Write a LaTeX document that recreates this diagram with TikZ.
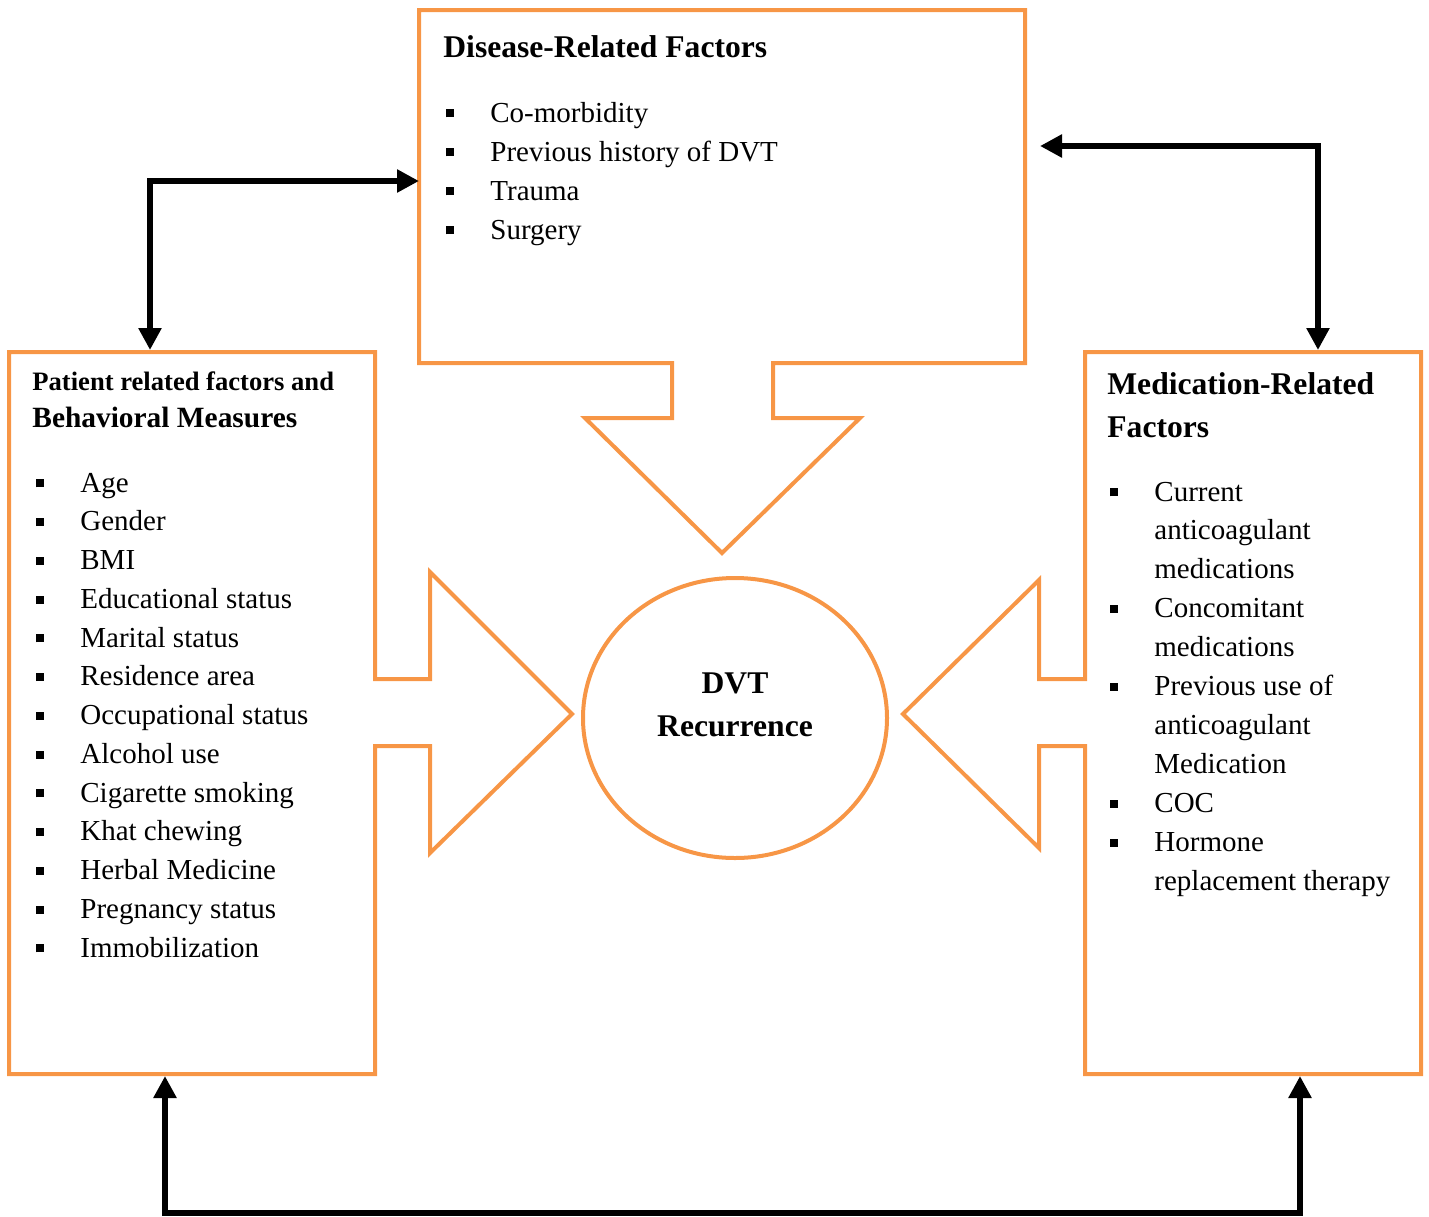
\documentclass[tikz,border=0pt]{standalone}
\usepackage{fontspec}
\setmainfont{Liberation Serif}
\usetikzlibrary{arrows.meta,shapes.geometric}
\definecolor{boxorange}{HTML}{F79646}
\tikzset{
  frame/.style={draw=boxorange, line width=2pt, line join=miter},
  ring/.style={draw=boxorange, line width=2pt, ellipse, minimum width=152pt, minimum height=140pt, inner sep=0pt},
  link/.style={line width=2.8pt, {Triangle[length=11pt,width=11pt]}-{Triangle[length=11pt,width=11pt]}},
  item/.style={anchor=base west, inner sep=0pt, font=\fontsize{14.5}{17}\selectfont},
  title/.style={anchor=base west, inner sep=0pt, font=\fontsize{15.8}{19}\selectfont\bfseries},
}
\newcommand{\sqb}{\makebox[22pt][l]{\rule[2.3pt]{4pt}{4pt}}}
\begin{document}
\begin{tikzpicture}[x=0.5pt,y=-0.5pt]
\useasboundingbox (0,0) rectangle (1429,1216);
\draw[frame] (672,363) -- (419,363) -- (419,10) -- (1025,10) -- (1025,363) -- (773,363) -- (773,418) -- (860,418) -- (722,553) -- (585,418) -- (672,418) -- cycle; % disease box
\draw[frame] (9,352) -- (375,352) -- (375,679) -- (430,679) -- (430,572) -- (572,714) -- (430,853) -- (430,746) -- (375,746) -- (375,1074) -- (9,1074) -- cycle; % patient box
\draw[frame] (1085,352) -- (1421,352) -- (1421,1074) -- (1085,1074) -- (1085,746) -- (1039,746) -- (1039,848) -- (903,714) -- (1039,580) -- (1039,679) -- (1085,679) -- cycle; % medication box
\node[ring] (dvt) at (735,718) {};
\node[title, anchor=base] (dvt-a) at (735,693) {DVT};
\node[title, anchor=base] (dvt-b) at (735,736) {Recurrence};
% titles
\node[title] (dis-t) at (443,57) {Disease-Related Factors};
\node[title, font=\fontsize{13.3}{16}\selectfont\bfseries] (pat-t) at (32,390) {Patient related factors and};
\node[title, font=\fontsize{14.7}{18}\selectfont\bfseries] (pat-s) at (32,427) {Behavioral Measures};
\node[title] (med-t) at (1107,394) {Medication-Related};
\node[title] (med-s) at (1107,437) {Factors};
% lists
\foreach \t [count=\i from 0] in {Co-morbidity, Previous history of DVT, Trauma, Surgery}
\node[item] (dis-\i) at (446,{122+39*\i}) {\sqb\t};
\foreach \t [count=\i from 0] in {Age, Gender, BMI, Educational status, Marital status, Residence area, Occupational status, Alcohol use, Cigarette smoking, Khat chewing, Herbal Medicine, Pregnancy status, Immobilization}
\node[item] (pat-\i) at (36,{492+38.75*\i}) {\sqb\t};
\foreach \b/\t [count=\i from 0] in {1/Current, 0/anticoagulant, 0/medications, 1/Concomitant, 0/medications, 1/Previous use of, 0/anticoagulant, 0/Medication, 1/COC, 1/Hormone, 0/replacement therapy}
\node[item] (med-\i) at (1110,{501+38.9*\i}) {\ifnum\b=1 \sqb\else\hspace{22pt}\fi\t};
% connectors
\coordinate (pat-top) at (150,350);
\coordinate (dis-left) at (419,181);
\coordinate (dis-right) at (1040,146);
\coordinate (med-top) at (1318,350);
\coordinate (pat-bot) at (165,1076);
\coordinate (med-bot) at (1300,1076);
\draw[link] (pat-top) |- (dis-left);
\draw[link] (dis-right) -| (med-top);
\draw[link] (pat-bot) -- ++(0,137) -| (med-bot);
\end{tikzpicture}
\end{document}
